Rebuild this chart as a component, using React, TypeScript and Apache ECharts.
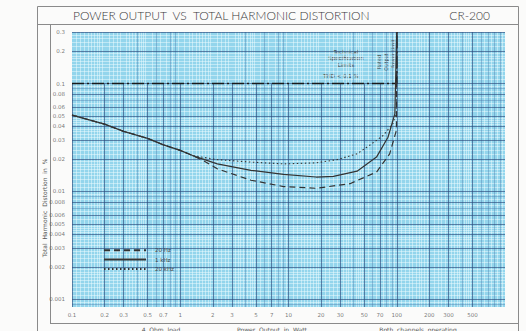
import React, { useEffect, useRef } from "react";
import * as echarts from "echarts";

// ---- data ----
const commonPower = [0.1, 0.2, 0.3, 0.5, 0.7, 1, 1.3];
const commonThd = [0.051, 0.042, 0.036, 0.031, 0.027, 0.024, 0.0215];

const hz20Power = [1.6, 2.2, 4.5, 9, 18, 37, 65, 86, 99.4, 100];
const hz20Thd = [0.0195, 0.0162, 0.0127, 0.0111, 0.0107, 0.0118, 0.0151, 0.0223, 0.037, 0.3];

const khz1Power = [2.2, 4.5, 9, 18, 26, 43, 65, 83, 96, 100];
const khz1Thd = [0.018, 0.0157, 0.0144, 0.0136, 0.0138, 0.0154, 0.0208, 0.0318, 0.0524, 0.3];

const khz20Power = [2.2, 4.5, 9, 18, 28, 43, 56, 75, 92, 99, 100];
const khz20Thd = [0.0197, 0.0187, 0.018, 0.0184, 0.0197, 0.0223, 0.0267, 0.033, 0.0424, 0.053, 0.3];

const limitPower = [0.1, 100, 100];
const limitThd = [0.1, 0.1, 0.3];

const xTickValues = [0.1, 0.2, 0.3, 0.5, 0.7, 1, 2, 3, 5, 7, 10, 20, 30, 50, 70, 100, 200, 300, 500];
const yTickValues = [0.3, 0.2, 0.1, 0.08, 0.06, 0.05, 0.04, 0.03, 0.02, 0.01, 0.008, 0.006, 0.005, 0.004, 0.003, 0.002, 0.001];

const X_MIN = 0.1;
const X_MAX = 1000;
const Y_MIN = 0.00085;
const Y_MAX = 0.3;

const fineMantissas = [1.1, 1.2, 1.3, 1.4, 1.5, 1.6, 1.7, 1.8, 1.9, 2.2, 2.4, 2.6, 2.8, 3.2, 3.4, 3.6, 3.8, 4.2, 4.4, 4.6, 4.8, 5.5, 6.5, 7.5, 8.5, 9.5];
const intMantissas = [1, 2, 3, 4, 5, 6, 7, 8, 9];

function gridValues(decades: number[], mants: number[], lo: number, hi: number) {
  const out: number[] = [];
  decades.forEach((d) =>
    mants.forEach((m) => {
      const v = +(m * d).toPrecision(6);
      if (v >= lo * 0.9999 && v <= hi * 1.0001) out.push(v);
    })
  );
  return out;
}

const join = (a: number[], b: number[]) => a.map((v, i) => [v, b[i]]);

export default function App() {
  const ref = useRef<HTMLDivElement>(null);
  useEffect(() => {
    if (!ref.current) return;
    const chart = echarts.init(ref.current, undefined, { renderer: "svg" });

    const xDec = [0.1, 1, 10, 100];
    const yDec = [0.0001, 0.001, 0.01, 0.1];
    const xFine = gridValues(xDec, fineMantissas, X_MIN, X_MAX);
    const xMed = gridValues(xDec, intMantissas, X_MIN, X_MAX).filter((v) => !xTickValues.includes(v));
    const yFine = gridValues(yDec, fineMantissas, Y_MIN, Y_MAX);
    const yMed = gridValues(yDec, intMantissas, Y_MIN, Y_MAX).filter((v) => !yTickValues.includes(v));

    // dark vertical lines: on the left part they only run below the 0.1 line
    const xDarkLow = xTickValues.filter((v) => v < 100);
    const xDarkHigh = xTickValues.filter((v) => v >= 100);

    const vLines = (vals: number[], lo = Y_MIN, hi = Y_MAX) => vals.map((v) => ({ coords: [[v, lo], [v, hi]] }));
    const hLines = (vals: number[]) => vals.map((v) => ({ coords: [[X_MIN, v], [X_MAX, v]] }));

    const gridSeries = (data: any[], color: string, width: number, z: number) => ({
      type: "lines",
      coordinateSystem: "cartesian2d",
      polyline: false,
      silent: true,
      z,
      data,
      lineStyle: { color, width, opacity: 1, type: "solid" },
    });

    const labelFont = { fontFamily: "DejaVu Sans", color: "#555" };

    chart.setOption({
      animation: false,
      backgroundColor: "#fbfbfa",
      grid: {
        left: 72,
        top: 32,
        right: 21,
        bottom: 24,
        show: true,
        backgroundColor: "#93d5ec",
        borderWidth: 0,
      },
      xAxis: {
        type: "log",
        logBase: 10,
        min: X_MIN,
        max: X_MAX,
        axisLine: { show: false },
        axisTick: { show: false },
        axisLabel: { show: false },
        splitLine: { show: false },
      },
      yAxis: {
        type: "log",
        logBase: 10,
        min: Y_MIN,
        max: Y_MAX,
        axisLine: { show: false },
        axisTick: { show: false },
        axisLabel: { show: false },
        splitLine: { show: false },
      },
      legend: {
        left: 98,
        top: 242,
        orient: "vertical",
        itemWidth: 42,
        itemHeight: 8,
        itemGap: 3,
        itemStyle: { opacity: 0 },
        textStyle: { fontSize: 5.5, color: "#444", fontFamily: "DejaVu Sans", padding: [0, 0, 0, 4] },
        data: ["20 Hz", "1 kHz", "20 kHz"],
      },
      series: [
        gridSeries([...vLines(xFine), ...hLines(yFine)], "rgba(240,252,255,0.6)", 0.8, 1),
        gridSeries([...vLines(xMed), ...hLines(yMed)], "rgba(75,120,170,0.4)", 1, 2),
        gridSeries(
          [...vLines(xDarkLow, Y_MIN, 0.1), ...vLines(xDarkHigh), ...hLines(yTickValues)],
          "rgba(45,75,125,0.65)",
          1,
          3
        ),
        {
          type: "line",
          name: "limit",
          data: join(limitPower, limitThd),
          symbol: "none",
          silent: true,
          z: 5,
          lineStyle: { color: "#1a1a1a", width: 1.6, type: [12, 3, 2, 3] },
        },
        {
          type: "line",
          name: "20 Hz",
          data: join([...commonPower, ...hz20Power], [...commonThd, ...hz20Thd]),
          symbol: "none",
          silent: true,
          z: 6,
          lineStyle: { color: "#333", width: 1.2, type: [6, 4] },
          itemStyle: { color: "#333" },
        },
        {
          type: "line",
          name: "1 kHz",
          data: join([...commonPower, ...khz1Power], [...commonThd, ...khz1Thd]),
          symbol: "none",
          silent: true,
          z: 6,
          lineStyle: { color: "#333", width: 1.2, type: "solid" },
          itemStyle: { color: "#333" },
        },
        {
          type: "line",
          name: "20 kHz",
          data: join([...commonPower, ...khz20Power], [...commonThd, ...khz20Thd]),
          symbol: "none",
          silent: true,
          z: 6,
          lineStyle: { color: "#333", width: 1.1, type: [1.5, 2.5] },
          itemStyle: { color: "#333" },
        },
        {
          type: "scatter",
          name: "xlabels",
          data: xTickValues.map((v) => [v, Y_MIN]),
          symbolSize: 0,
          silent: true,
          label: {
            show: true,
            position: "bottom",
            distance: 5,
            formatter: (p: any) => String(p.value[0]),
            fontSize: 5.5,
            ...labelFont,
          },
        },
        {
          type: "scatter",
          name: "ylabels",
          data: yTickValues.map((v) => [X_MIN, v]),
          symbolSize: 0,
          silent: true,
          label: {
            show: true,
            position: "left",
            distance: 7,
            formatter: (p: any) => String(p.value[1]),
            fontSize: 5.5,
            ...labelFont,
          },
        },
      ],
      graphic: [
        { type: "rect", shape: { x: 37.5, y: 6.5, width: 481, height: 340 }, style: { fill: "none", stroke: "#8a8a8a", lineWidth: 1 }, silent: true },
        { type: "line", shape: { x1: 37, y1: 24.5, x2: 518, y2: 24.5 }, style: { stroke: "#8a8a8a", lineWidth: 1 }, silent: true },
        { type: "line", shape: { x1: 50.5, y1: 24, x2: 50.5, y2: 323 }, style: { stroke: "#8a8a8a", lineWidth: 1 }, silent: true },
        { type: "line", shape: { x1: 50, y1: 323.5, x2: 518, y2: 323.5 }, style: { stroke: "#8a8a8a", lineWidth: 1 }, silent: true },
        {
          type: "text",
          x: 73,
          y: 15.5,
          style: { text: "POWER OUTPUT  VS  TOTAL HARMONIC DISTORTION", fill: "#3a3a3a", fontSize: 12, fontFamily: "Lato", fontWeight: 300, verticalAlign: "middle", align: "left" },
          silent: true,
        },
        {
          type: "text",
          x: 490,
          y: 15.5,
          style: { text: "CR-200", fill: "#3a3a3a", fontSize: 12, fontFamily: "Lato", fontWeight: 300, verticalAlign: "middle", align: "right" },
          silent: true,
        },
        {
          type: "text",
          x: 44,
          y: 208,
          rotation: Math.PI / 2,
          style: { text: "Total  Harmonic  Distortion  in  %", fill: "#555", fontSize: 6, fontFamily: "DejaVu Sans", verticalAlign: "middle", align: "center" },
          silent: true,
        },
        {
          type: "text",
          x: 346,
          y: 58,
          style: { text: "Technical\nSpecification\nLimits", fill: "#444", fontSize: 5.5, lineHeight: 6.5, fontFamily: "DejaVu Sans", verticalAlign: "middle", align: "center" },
          silent: true,
        },
        {
          type: "text",
          x: 341,
          y: 76,
          style: { text: "THD < 0.1 %", fill: "#444", fontSize: 5.5, fontFamily: "DejaVu Sans", verticalAlign: "middle", align: "center" },
          silent: true,
        },
        {
          type: "text",
          x: 379,
          y: 62,
          rotation: Math.PI / 2,
          style: { text: "Rated", fill: "#444", fontSize: 5, fontFamily: "DejaVu Sans", verticalAlign: "middle", align: "center" },
          silent: true,
        },
        {
          type: "text",
          x: 386,
          y: 62,
          rotation: Math.PI / 2,
          style: { text: "Output", fill: "#444", fontSize: 5, fontFamily: "DejaVu Sans", verticalAlign: "middle", align: "center" },
          silent: true,
        },
        {
          type: "text",
          x: 392.5,
          y: 54,
          rotation: Math.PI / 2,
          style: { text: "Power Limit", fill: "#444", fontSize: 5, fontFamily: "DejaVu Sans", verticalAlign: "middle", align: "center" },
          silent: true,
        },
        {
          type: "text",
          x: 161,
          y: 329,
          style: { text: "4  Ohm  load", fill: "#555", fontSize: 6, fontFamily: "DejaVu Sans", verticalAlign: "middle", align: "center" },
          silent: true,
        },
        {
          type: "text",
          x: 272,
          y: 329,
          style: { text: "Power  Output  in  Watt", fill: "#555", fontSize: 6, fontFamily: "DejaVu Sans", verticalAlign: "middle", align: "center" },
          silent: true,
        },
        {
          type: "text",
          x: 418,
          y: 329,
          style: { text: "Both  channels  operating", fill: "#555", fontSize: 6, fontFamily: "DejaVu Sans", verticalAlign: "middle", align: "center" },
          silent: true,
        },
      ],
    });
    return () => chart.dispose();
  }, []);
  return <div ref={ref} style={{ position: "fixed", left: 0, top: 0, width: 526, height: 331 }} />;
}
